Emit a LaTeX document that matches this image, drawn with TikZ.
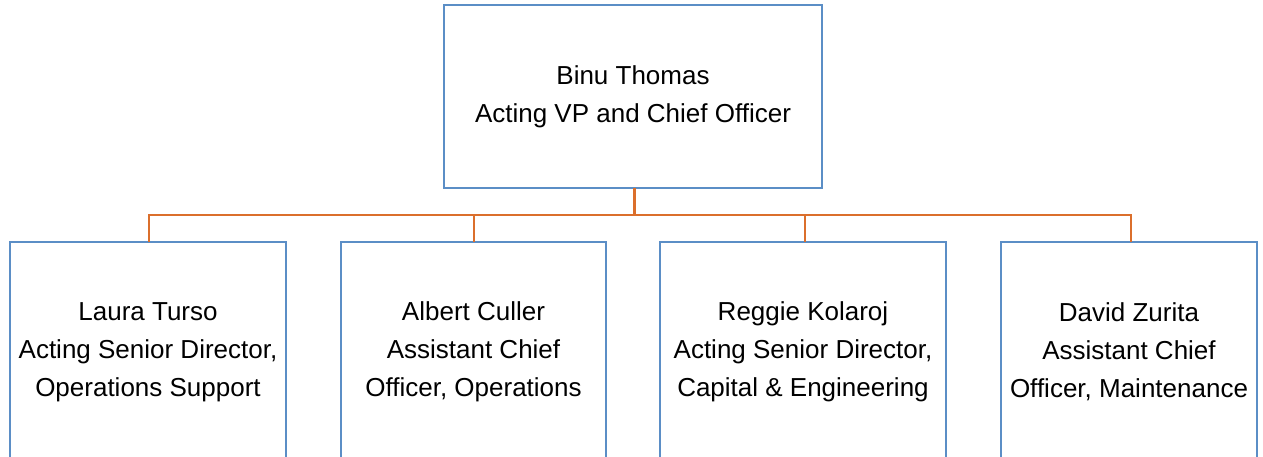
\documentclass[tikz,border=0pt]{standalone}
\usepackage{fontspec}
\setmainfont{Liberation Sans}
\definecolor{boxblue}{HTML}{5B8EC6}
\definecolor{linkorange}{HTML}{DB6F2C}
\begin{document}
\begin{tikzpicture}[x=1pt,y=-1pt,
  orgbox/.style={draw=boxblue, line width=2.6pt, rectangle, inner sep=0pt, outer sep=0pt,
    align=center, font=\fontsize{26}{38}\selectfont},
  stemline/.style={draw=linkorange, line width=3pt},
  linkline/.style={draw=linkorange, line width=1.3pt}]
\useasboundingbox (0,0) rectangle (1263,457);
\clip (0,0) rectangle (1263,457);
\fill[white] (0,0) rectangle (1263,457);
\node[orgbox, minimum width=378pt, minimum height=183pt] (top) at (633,96.5)
  {Binu Thomas\\Acting VP and Chief Officer};
\node[orgbox, minimum width=276pt, minimum height=220pt] (b1) at (148,352)
  {Laura Turso\\Acting Senior Director,\\Operations Support};
\node[orgbox, minimum width=265pt, minimum height=220pt] (b2) at (473.5,352)
  {Albert Culler\\Assistant Chief\\Officer, Operations};
\node[orgbox, minimum width=286pt, minimum height=220pt] (b3) at (803,352)
  {Reggie Kolaroj\\Acting Senior Director,\\Capital \& Engineering};
\node[orgbox, minimum width=256pt, minimum height=220pt] (b4) at (1129,352)
  {David Zurita\\Assistant Chief\\Officer, Maintenance};
\coordinate (hub) at (634,215);
\draw[stemline] (top.south -| hub) -- (hub);
\draw[linkline] (hub) -| ([xshift=1pt]b1.north);
\draw[linkline] (hub) -| ([xshift=0.5pt]b2.north);
\draw[linkline] (hub) -| ([xshift=2pt]b3.north);
\draw[linkline] (hub) -| ([xshift=2pt]b4.north);
\end{tikzpicture}
\end{document}
